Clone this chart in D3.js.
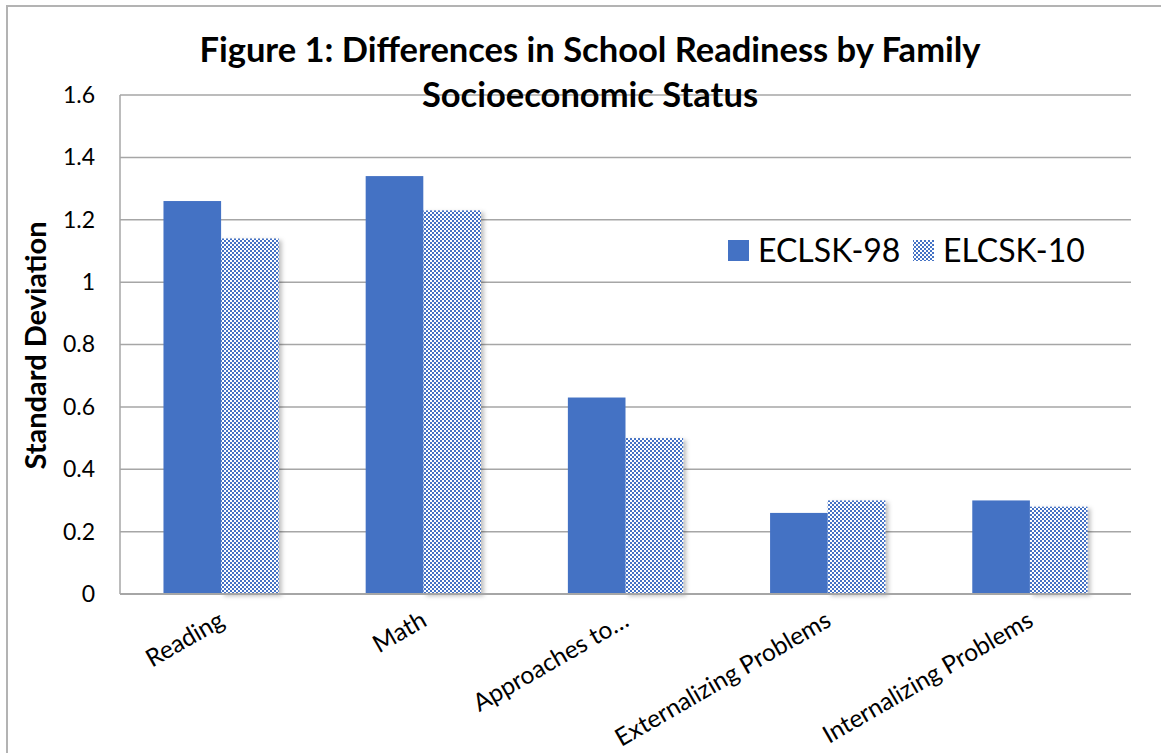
<!DOCTYPE html>
<html><head><meta charset="utf-8">
<script src="https://cdn.jsdelivr.net/npm/d3@7"></script>
<style>body{margin:0;background:#fff;}svg{display:block;font-family:Lato,"Open Sans",sans-serif;}</style>
</head><body>
<svg id="c" width="1161" height="753"></svg>
<script>
const categories = ["Reading","Math","Approaches to…","Externalizing Problems","Internalizing Problems"];
const seriesNames = ["ECLSK-98","ELCSK-10"];
const eclsk98 = [1.26,1.34,0.63,0.26,0.30];
const elcsk10 = [1.14,1.23,0.50,0.30,0.28];
const yTicks = [0,0.2,0.4,0.6,0.8,1,1.2,1.4,1.6];
const titleLines = ["Figure 1: Differences in School Readiness by Family","Socioeconomic Status"];
const yTitle = "Standard Deviation";

const svg = d3.select("#c");
const blue = "#4472C4";
const defs = svg.append("defs");
const pat = defs.append("pattern").attr("id","chk").attr("width",4).attr("height",4).attr("patternUnits","userSpaceOnUse");
pat.append("rect").attr("width",4).attr("height",4).attr("fill","#fff");
pat.append("rect").attr("width",2).attr("height",2).attr("fill",blue);
pat.append("rect").attr("x",2).attr("y",2).attr("width",2).attr("height",2).attr("fill",blue);
const f = defs.append("filter").attr("id","sh").attr("x","-10%").attr("y","-10%").attr("width","130%").attr("height","130%");
f.append("feDropShadow").attr("dx",3).attr("dy",2).attr("stdDeviation",2).attr("flood-color","#000").attr("flood-opacity",0.25);

// outer border
svg.append("path").attr("d","M7,753 V6 H1161").attr("fill","none").attr("stroke","#b3b3b3").attr("stroke-width",2);

const L=120,R=1131,T=95,B=594;
const x = d3.scaleBand().domain(categories).range([L,R]).paddingInner(0.43).paddingOuter(0.215);
const xs = d3.scaleBand().domain(seriesNames).range([0,x.bandwidth()]);
const y = d3.scaleLinear().domain([0,1.6]).range([B,T]);

// gridlines
svg.append("g").selectAll("line").data(yTicks).join("line")
  .attr("x1",L).attr("x2",R).attr("y1",d=>y(d)).attr("y2",d=>y(d))
  .attr("stroke","#a6a6a6").attr("stroke-width",1.5);
svg.append("line").attr("x1",L).attr("x2",L).attr("y1",T).attr("y2",B).attr("stroke","#a6a6a6").attr("stroke-width",1.5);

// y axis labels
const yAxis = d3.axisLeft(y).tickValues(yTicks).tickFormat(d=>String(d)).tickSize(0).tickPadding(25);
const ga = svg.append("g").attr("transform",`translate(${L},0)`).call(yAxis);
ga.select(".domain").remove();
ga.selectAll("text").attr("font-size",23).attr("fill","#000").attr("font-family","Lato,sans-serif");

// bars
const rows = categories.map((c,i)=>({c, v:[eclsk98[i],elcsk10[i]]}));
const g = svg.append("g");
rows.forEach(r=>{
  g.append("rect").attr("x",x(r.c)+xs(seriesNames[1])).attr("width",xs.bandwidth())
    .attr("y",y(r.v[1])).attr("height",B-y(r.v[1])).attr("fill","url(#chk)").attr("filter","url(#sh)");
  g.append("rect").attr("x",x(r.c)+xs(seriesNames[0])).attr("width",xs.bandwidth())
    .attr("y",y(r.v[0])).attr("height",B-y(r.v[0])).attr("fill",blue);
});
// baseline
svg.append("line").attr("x1",L).attr("x2",R).attr("y1",B).attr("y2",B).attr("stroke","#a6a6a6").attr("stroke-width",2);

// category labels
svg.append("g").selectAll("text").data(categories).join("text")
  .attr("transform",d=>`translate(${x(d)+x.bandwidth()/2+5},${B+31}) rotate(-30)`)
  .attr("text-anchor","end").attr("font-size",24.5).attr("fill","#000").text(d=>d);

// y title
svg.append("text").attr("transform",`translate(46,${(T+B)/2+1}) rotate(-90)`)
  .attr("text-anchor","middle").attr("font-size",29).attr("font-weight","bold").text(yTitle);

// title
svg.append("g").selectAll("text").data(titleLines).join("text")
  .attr("x",590).attr("y",(d,i)=>62+i*45).attr("text-anchor","middle")
  .attr("font-size",34.5).attr("font-weight","bold").attr("fill","#000").text(d=>d);

// legend
const lg = svg.append("g");
const lx=[728,913];
seriesNames.forEach((s,i)=>{
  lg.append("rect").attr("x",lx[i]).attr("y",240).attr("width",21).attr("height",21).attr("fill",i?"url(#chk)":blue);
  lg.append("text").attr("x",lx[i]+30).attr("y",262).attr("font-size",32).attr("fill","#000").text(s);
});
</script>
</body></html>
